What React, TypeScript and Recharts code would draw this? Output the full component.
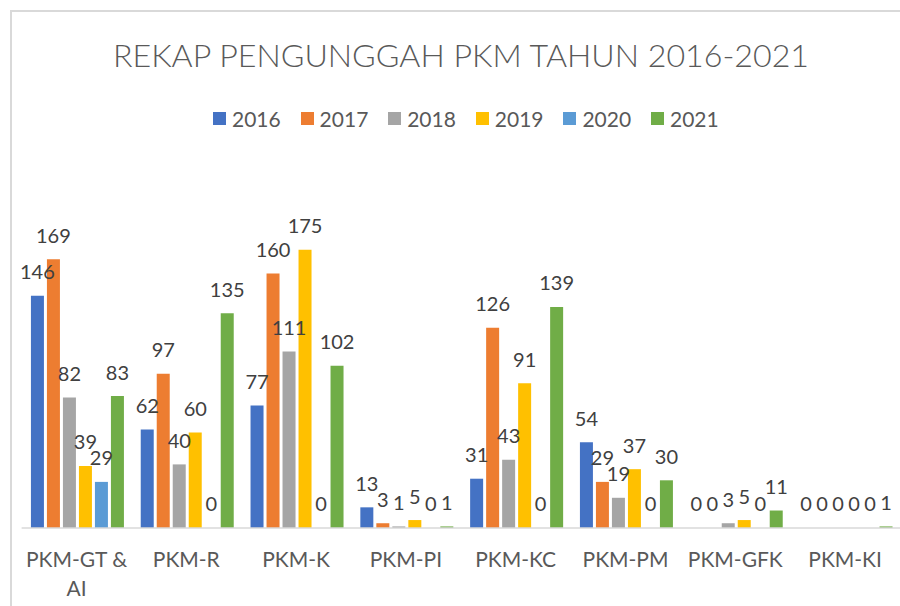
import React from 'react'
import { Bar, BarChart, LabelList, Legend, XAxis, YAxis } from 'recharts'

const categories = ['PKM-GT & AI', 'PKM-R', 'PKM-K', 'PKM-PI', 'PKM-KC', 'PKM-PM', 'PKM-GFK', 'PKM-KI']
const years = ['2016', '2017', '2018', '2019', '2020', '2021']
const colors = ['#4472C4', '#ED7D31', '#A5A5A5', '#FFC000', '#5B9BD5', '#70AD47']

const y2016 = [146, 62, 77, 13, 31, 54, 0, 0]
const y2017 = [169, 97, 160, 3, 126, 29, 0, 0]
const y2018 = [82, 40, 111, 1, 43, 19, 3, 0]
const y2019 = [39, 60, 175, 5, 91, 37, 5, 0]
const y2020 = [29, 0, 0, 0, 0, 0, 0, 0]
const y2021 = [83, 135, 102, 1, 139, 30, 11, 1]
const series = [y2016, y2017, y2018, y2019, y2020, y2021]

const font = 'Lato, "Open Sans", sans-serif'

const data = categories.map((name, i) => {
  const row: Record<string, string | number> = { name }
  years.forEach((year, j) => {
    row[year] = series[j][i]
  })
  return row
})

// long labels break at the last space, like the wrapped "PKM-GT & AI"
const splitLabel = (label: string) => {
  const cut = label.lastIndexOf(' ')
  if (label.length <= 9 || cut < 0) return [label]
  return [label.slice(0, cut), label.slice(cut + 1)]
}

const CategoryTick = (props: any) => {
  const { x, y, payload } = props
  const lines = splitLabel(String(payload.value))
  return (
    <text x={x} y={y + 39} textAnchor="middle" fill="#595959" style={{ fontFamily: font, fontSize: 21 }}>
      {lines.map((line, k) => (
        <tspan key={k} x={x} dy={k === 0 ? 0 : 29}>
          {line}
        </tspan>
      ))}
    </text>
  )
}

const ValueLabel = (props: any) => {
  const { x, y, width, value } = props
  return (
    <text
      x={Number(x) + Number(width) / 2}
      y={Number(y) - 16.5}
      textAnchor="middle"
      fill="#404040"
      style={{ fontFamily: font, fontSize: 20 }}
    >
      {value}
    </text>
  )
}

const YearLegend = (props: any) => (
  <div style={{ display: 'flex' }}>
    {props.payload.map((item: any) => (
      <div key={item.value} style={{ width: 87.6, display: 'flex', alignItems: 'center' }}>
        <span style={{ width: 13, height: 13, background: item.color, marginRight: 6, display: 'inline-block' }} />
        <span style={{ fontFamily: font, fontSize: 21, color: '#595959', lineHeight: '25px' }}>{item.value}</span>
      </div>
    ))}
  </div>
)

const App = () => {
  return (
    <div style={{ position: 'absolute', left: 0, top: 0, width: 900, height: 606, overflow: 'hidden', background: '#fff' }}>
      <div
        style={{
          position: 'absolute',
          left: 10,
          top: 10,
          width: 1000,
          height: 800,
          borderLeft: '2px solid #d9d9d9',
          borderTop: '2px solid #d9d9d9',
        }}
      />
      <svg width={900} height={100} style={{ position: 'absolute', left: 0, top: 0 }}>
        <text x={461} y={67} textAnchor="middle" fill="#595959" style={{ fontFamily: font, fontSize: 32.2, fontWeight: 300 }}>
          REKAP PENGUNGGAH PKM TAHUN 2016-2021
        </text>
      </svg>
      <div style={{ position: 'absolute', left: 0, top: 0 }}>
        <BarChart
          width={900}
          height={606}
          data={data}
          margin={{ top: 210, right: 0, bottom: 0, left: 21.6 }}
          barCategoryGap="8.5%"
          barGap={3}
        >
          <XAxis
            dataKey="name"
            height={78}
            tickSize={0}
            tickMargin={0}
            interval={0}
            axisLine={{ stroke: '#d9d9d9', strokeWidth: 1.5 }}
            tick={<CategoryTick />}
          />
          <YAxis hide domain={[0, 200]} />
          <Legend
            layout="horizontal"
            verticalAlign="middle"
            align="center"
            content={<YearLegend />}
            wrapperStyle={{ left: 213, top: 105.5, width: 'auto' }}
          />
          {years.map((year, j) => (
            <Bar key={year} dataKey={year} fill={colors[j]} minPointSize={0.01} isAnimationActive={false}>
              <LabelList dataKey={year} content={<ValueLabel />} />
            </Bar>
          ))}
        </BarChart>
      </div>
    </div>
  )
}

export default App
